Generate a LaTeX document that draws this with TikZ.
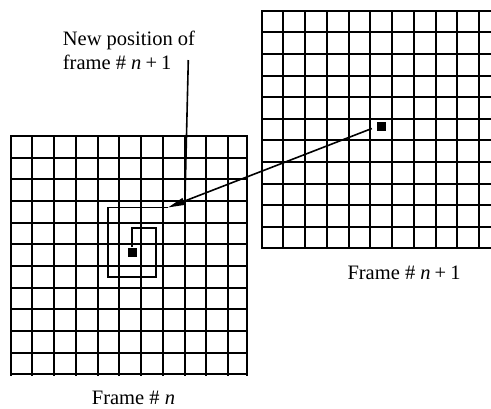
\documentclass[tikz,border=0pt]{standalone}
\usepackage{fontspec}
\setmainfont{Liberation Serif}
\usetikzlibrary{arrows.meta}
\begin{document}
\begin{tikzpicture}[x=1pt,y=-1pt,
  gridline/.style={line width=2pt, line cap=rect},
  sqbox/.style={fill=black, minimum size=9pt, inner sep=0pt},
  spiral/.style={line width=1.7pt},
  arr/.style={line width=1.6pt, -{Triangle[length=17pt,width=7pt]}},
  pointer/.style={line width=1.6pt},
  lbl/.style={font=\fontsize{20.5}{24.3}\selectfont, inner sep=0pt}]
\fill[white] (0,0) rectangle (491,408);
\useasboundingbox (0,0) rectangle (491,408);
% frame n
\foreach \i in {0,...,10} \draw[gridline] ({10.7+21.75*\i},136) -- ({10.7+21.75*\i},374.5);
\draw[gridline] (247.3,136) -- (247.3,374.5);
\foreach \i in {0,...,11} \draw[gridline] (10.7,{136+21.68*\i}) -- (247.3,{136+21.68*\i});
% frame n+1
\foreach \i in {0,...,10} \draw[gridline] ({261.7+21.73*\i},10.7) -- ({261.7+21.73*\i},248.3);
\foreach \i in {0,...,11} \draw[gridline] (261.7,{10.7+21.6*\i}) -- (491,{10.7+21.6*\i});
% pixels
\node[sqbox] (sqL) at (132,252) {};
\node[sqbox] (sqR) at (381.2,126.7) {};
% spiral search path
\coordinate (tip) at (168,207.5);
\draw[spiral] (sqL.north) -- (132,228.3) -- (156,228.3) -- (156,277.3) -- (108.3,277.3) -- (108.3,207.5) -- (tip);
% motion vector
\draw[arr, shorten <=5pt] (sqR.west) -- (tip);
% labels
\node[lbl, anchor=base west, align=left] (newpos) at (62.7,69.3) {New position of\\frame \# \textit{n}\hspace{0.2em}+\hspace{0.2em}1};
\coordinate (ptrtop) at (188.3,60);
\coordinate (ptrend) at (185,199);
\draw[pointer] (ptrtop) -- (ptrend);
\node[lbl, anchor=base west] (fr1) at (347.3,279.3) {Frame \# \textit{n}\hspace{0.2em}+\hspace{0.2em}1};
\node[lbl, anchor=base west] (fr0) at (91.7,404) {Frame \# \textit{n}};
\end{tikzpicture}
\end{document}
